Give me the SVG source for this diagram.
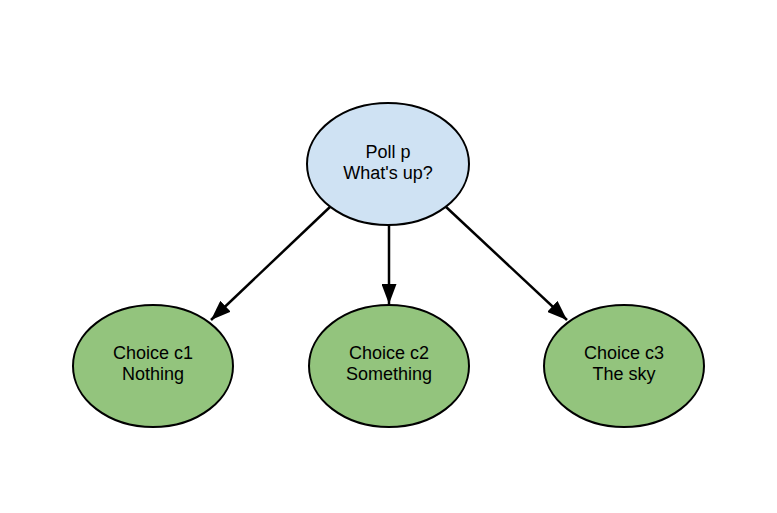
<svg xmlns="http://www.w3.org/2000/svg" width="777" height="513" viewBox="0 0 777 513">
<style>
.poll{fill:#cfe2f3;stroke:#000;stroke-width:2}
.choice{fill:#93c47d;stroke:#000;stroke-width:2}
text{font-family:"Liberation Sans",Arial,sans-serif;font-size:18px;fill:#000;text-anchor:middle}
.edge{stroke:#000;stroke-width:2.5;fill:none;marker-end:url(#ah)}
</style>
<defs>
<marker id="ah" markerWidth="8" markerHeight="6" refX="8" refY="3" orient="auto" markerUnits="strokeWidth">
<path d="M0,0 L8,3 L0,6 Z" fill="#000"/>
</marker>
</defs>
<rect width="777" height="513" fill="#fff"/>
<g id="connectors">
<line class="edge" x1="331" y1="206" x2="211" y2="320"/>
<line class="edge" x1="389" y1="225" x2="389" y2="304"/>
<line class="edge" x1="445" y1="206" x2="567" y2="320"/>
</g>
<g id="poll">
<ellipse class="poll" cx="388" cy="164" rx="81" ry="61"/>
<text x="388" y="158">Poll p</text>
<text x="388" y="179">What's up?</text>
</g>
<g id="c1">
<ellipse class="choice" cx="153" cy="366" rx="80" ry="61"/>
<text x="153" y="359">Choice c1</text>
<text x="153" y="380">Nothing</text>
</g>
<g id="c2">
<ellipse class="choice" cx="389" cy="366" rx="80" ry="61"/>
<text x="389" y="359">Choice c2</text>
<text x="389" y="380">Something</text>
</g>
<g id="c3">
<ellipse class="choice" cx="624" cy="366" rx="80" ry="61"/>
<text x="624" y="359">Choice c3</text>
<text x="624" y="380">The sky</text>
</g>
</svg>
